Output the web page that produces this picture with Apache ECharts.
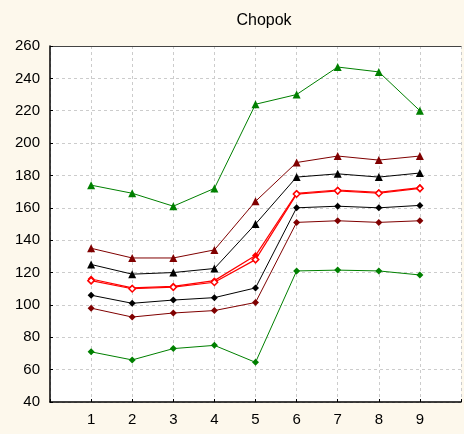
<!DOCTYPE html>
<html><head><meta charset="utf-8">
<script src="https://cdn.jsdelivr.net/npm/echarts@6/dist/echarts.min.js"></script>
<style>html,body{margin:0;padding:0;background:#fdf8ec;}#c{width:464px;height:434px;}</style>
</head><body><div id="c"></div>
<script>
const categories = [1, 2, 3, 4, 5, 6, 7, 8, 9];
const yTicks = [40, 60, 80, 100, 120, 140, 160, 180, 200, 220, 240, 260];
const greenUpper = [174, 169, 161, 172, 224, 230, 247, 244, 220];
const darkRedUpper = [135, 129, 129, 134, 164, 188, 192, 189.5, 192];
const blackUpper = [125, 119, 120, 122.5, 150, 179, 181, 179, 181.5];
const redFilled = [116, 110.5, 111.5, 115, 130.5, 169, 171, 169.5, 172.5];
const redOpen = [115, 110, 111, 114, 128, 168.5, 170.5, 169, 172];
const blackLower = [106, 101, 103, 104.5, 110.5, 160, 161, 160, 161.5];
const darkRedLower = [98, 92.5, 95, 96.5, 101.5, 151, 152, 151, 152];
const greenLower = [71, 66, 73, 75, 64.5, 121, 121.5, 121, 118.5];

function pts(v){ return categories.map((c,i)=>[c, v[i]]); }
function s(name, data, color, symbol, size, fill, width){
  return {name, type:'line', data: pts(data), symbol, symbolSize:size,
    lineStyle:{color, width: width||1}, itemStyle:{color: fill||color, borderColor: color, borderWidth: fill? 1.5 : 0},
    animation:false};
}
const chart = echarts.init(document.getElementById('c'));
chart.setOption({
  backgroundColor:'#fdf8ec',
  title:{text:'Chopok', left:259, top:8, textAlign:'center', textStyle:{fontFamily:'Liberation Sans, Arial', fontSize:16, fontWeight:'normal', color:'#000'}},
  grid:{left:50, top:46, right:-2, bottom:32, show:true, backgroundColor:'#fff', borderWidth:0},
  xAxis:[{type:'value', min:0, max:10, interval:1,
    axisLine:{lineStyle:{color:'#000', width:1.5}},
    axisTick:{show:true, inside:true, length:3, lineStyle:{color:'#000'}},
    axisLabel:{fontFamily:'Liberation Sans, Arial', fontSize:15, color:'#000', margin:10,
      formatter: v => categories.includes(v) ? String(v) : ''},
    splitLine:{show:true, lineStyle:{color:'#cccccc', type:[3,3]}}},
    {type:'value', position:'top', min:0, max:10, interval:1,
    axisLine:{show:true, lineStyle:{color:'#444', width:1}}, axisTick:{show:false}, axisLabel:{show:false}, splitLine:{show:false}}],
  yAxis:{type:'value', min:yTicks[0], max:yTicks[yTicks.length-1], interval:20,
    axisLine:{show:true, lineStyle:{color:'#000', width:1.5}},
    axisTick:{show:true, inside:true, length:3, lineStyle:{color:'#000'}},
    axisLabel:{fontFamily:'Liberation Sans, Arial', fontSize:15, color:'#000', margin:10},
    splitLine:{show:true, lineStyle:{color:'#cccccc', type:[3,3]}}},
  series:[
    s('gu', greenUpper, '#008000', 'triangle', 8),
    s('du', darkRedUpper, '#800000', 'triangle', 8),
    s('bu', blackUpper, '#000000', 'triangle', 8),
    s('rf', redFilled, '#ff0000', 'diamond', 7, null, 1.2),
    s('ro', redOpen, '#ff0000', 'diamond', 6.5, '#ffffff', 1.2),
    s('bl', blackLower, '#000000', 'diamond', 7),
    s('dl', darkRedLower, '#800000', 'diamond', 7),
    s('gl', greenLower, '#008000', 'diamond', 7)
  ]
});
</script></body></html>
